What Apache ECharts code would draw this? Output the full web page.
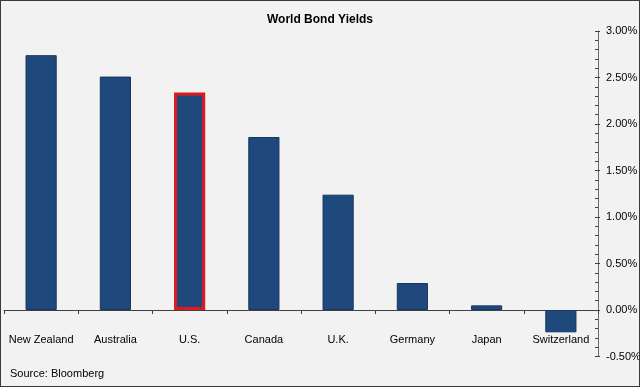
<!DOCTYPE html>
<html><head><meta charset="utf-8">
<script src="https://cdn.jsdelivr.net/npm/echarts@6/dist/echarts.min.js"></script>
<style>
html,body{margin:0;padding:0;background:#f2f2f2;}
#wrap{position:relative;width:640px;height:387px;}
#c{width:640px;height:387px;}
#frame{position:absolute;left:0;top:0;width:640px;height:387px;box-sizing:border-box;border:1px solid #3a3a3a;pointer-events:none;}
</style></head><body>
<div id="wrap"><div id="c"></div><div id="frame"></div></div>
<script>
const categories = ['New Zealand','Australia','U.S.','Canada','U.K.','Germany','Japan','Switzerland'];
const yields = [2.74, 2.51, 2.34, 1.86, 1.24, 0.29, 0.05, -0.24];
const highlight = 'U.S.';
const titleText = 'World Bond Yields';
const sourceText = 'Source: Bloomberg';

const chart = echarts.init(document.getElementById('c'), null, {renderer:'canvas'});
const font = 'Liberation Sans, Arial, sans-serif';
const yBase = {
  type: 'value', position: 'right', min: -0.5, max: 3, interval: 0.5,
  splitLine: {show: false}
};
chart.setOption({
  backgroundColor: '#f2f2f2',
  animation: false,
  title: {text: titleText, left: 'center', top: 9,
    textStyle: {fontFamily: font, fontSize: 12, fontWeight: 'bold', color: '#000'}},
  graphic: [{type:'text', left: 10, top: 368,
    style: {text: sourceText, font: '11px ' + font, fill: '#000'}}],
  grid: {left: 4, right: 42, top: 31, bottom: 30.5, containLabel: false, outerBoundsMode: 'none'},
  xAxis: {
    type: 'category', data: categories,
    axisLine: {onZero: true, lineStyle: {color: '#404040', width: 1}},
    axisTick: {show: true, length: 4, lineStyle: {color: '#404040'}},
    axisLabel: {fontFamily: font, fontSize: 11, color: '#000', margin: -22, interval: 0}
  },
  yAxis: [
    Object.assign({}, yBase, {
      axisLine: {show: true, lineStyle: {color: '#6a6a6a', width: 1}},
      axisTick: {show: true, inside: true, length: 3, lineStyle: {color: '#404040'}},
      minorTick: {show: true, splitNumber: 5, length: 3, lineStyle: {color: '#404040'}},
      axisLabel: {fontFamily: font, fontSize: 11, color: '#000', margin: 8,
        formatter: v => v.toFixed(2) + '%'}
    }),
    Object.assign({}, yBase, {
      axisLine: {show: false},
      axisTick: {show: true, inside: false, length: 2, lineStyle: {color: '#404040'}},
      axisLabel: {show: false}
    })
  ],
  series: [{
    type: 'bar', barWidth: '42%', yAxisIndex: 0,
    data: yields.map((v, i) => categories[i] === highlight
      ? {value: v, itemStyle: {color: '#1f497d', borderColor: '#e0191b', borderWidth: 3}}
      : {value: v}),
    itemStyle: {color: '#1f497d', borderColor: '#17365d', borderWidth: 1}
  }]
});
</script></body></html>
